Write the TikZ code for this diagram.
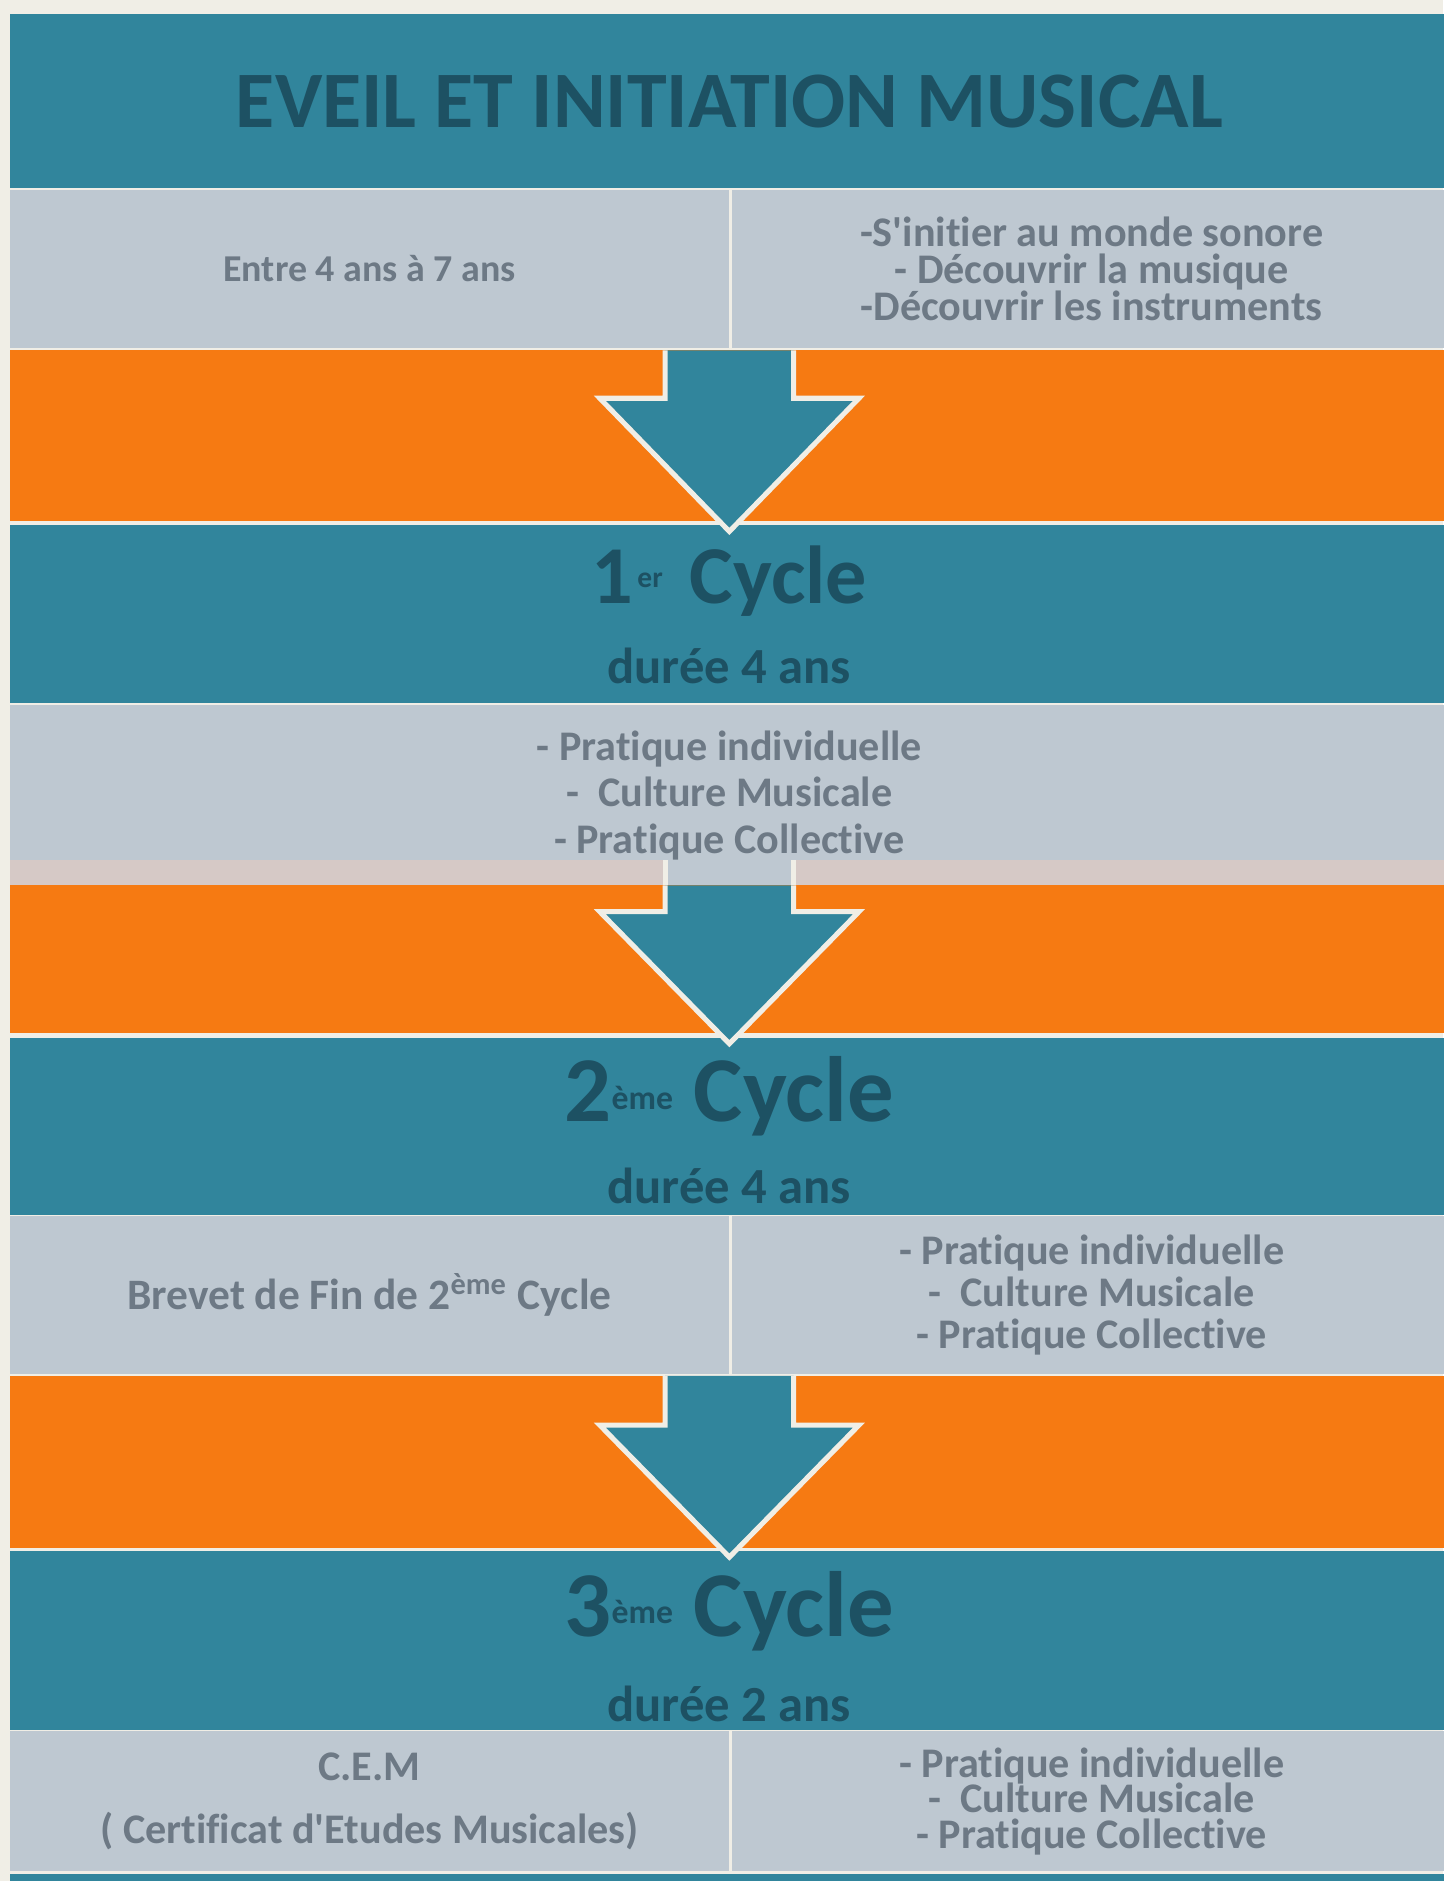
\documentclass[tikz,border=0pt]{standalone}
\usepackage{fontspec}
\setmainfont{Carlito}[Ligatures=NoCommon]
\usetikzlibrary{positioning}
\definecolor{bandteal}{HTML}{31859C}
\definecolor{titleteal}{HTML}{1D5163}
\definecolor{bandorange}{HTML}{F67A12}
\definecolor{bandgray}{HTML}{BEC8D1}
\definecolor{graytext}{HTML}{6D7985}
\definecolor{offwhite}{HTML}{F0EEE6}
\definecolor{pinkstrip}{HTML}{D6C9C6}
\setlength{\lineskiplimit}{-100pt}
\newcommand{\smallsup}[3]{\raisebox{#1}{\fontsize{#2}{#2}\selectfont #3}}

\begin{document}
\begin{tikzpicture}[
    band/.style={inner sep=0pt, outer sep=0pt, minimum width=12cm},
    tealband/.style={band, fill=bandteal, text=titleteal, font=\bfseries\fontsize{19}{23}\selectfont},
    orangeband/.style={band, fill=bandorange},
    grayband/.style={band, fill=bandgray, text=graytext, align=center},
    graycell/.style={grayband, minimum width=6cm},
    cyclelabel/.style={anchor=base, inner sep=0pt, text=titleteal, font=\bfseries\fontsize{22}{26}\selectfont},
    durationlabel/.style={anchor=base, inner sep=0pt, text=titleteal, font=\bfseries\fontsize{12}{14}\selectfont},
    blockarrow/.style={fill=bandteal, draw=offwhite, line width=1.2pt, line join=miter}
]
        \useasboundingbox (0,0) rectangle (12.03,-15.68);
        \fill[offwhite] (0,0) rectangle (12.03,-15.68);

        \node[tealband, minimum height=14.5mm, anchor=north west] (title) at (0.08,-0.12) {EVEIL ET INITIATION MUSICAL};
        \node[graycell, minimum height=13.2mm, below=0.1mm of title.south west, anchor=north west, font=\bfseries\fontsize{9}{11}\selectfont] (age) {Entre 4 ans à 7 ans};
        \node[graycell, minimum height=13.2mm, right=0.2mm of age, font=\bfseries\fontsize{10}{8.8}\selectfont] (eveilgoals) {-S\textquotesingle initier au monde sonore\\ - Découvrir la musique\\-Découvrir les instruments};
        \node[orangeband, minimum height=14.2mm, below=0.2mm of age.south west, anchor=north west] (gap1) {};

        \node[tealband, minimum height=14.8mm, below=0.4mm of gap1] (cycle1) {};
        \node[cyclelabel, font=\bfseries\fontsize{19.5}{23}\selectfont] (cycle1name) at ([yshift=-6.5mm]cycle1.north) {1\hspace{1pt}\smallsup{3.7pt}{7}{er}\hspace{2pt} Cycle};
        \node[durationlabel] (cycle1time) at ([yshift=-13.2mm]cycle1.north) {durée 4 ans};
        \node[grayband, minimum height=15mm, below=0.2mm of cycle1, font=\bfseries\fontsize{10}{11}\selectfont] (cycle1goals) {- Pratique individuelle\\ -\ \ Culture Musicale\\- Pratique Collective};
        \node[orangeband, minimum height=12.3mm, below=0mm of cycle1goals] (gap2) {};

        \node[tealband, minimum height=14.8mm, below=0.4mm of gap2] (cycle2) {};
        \node[cyclelabel] (cycle2name) at ([yshift=-7mm]cycle2.north) {2\smallsup{3pt}{8}{ème} Cycle};
        \node[durationlabel] (cycle2time) at ([yshift=-13.8mm]cycle2.north) {durée 4 ans};
        \node[graycell, minimum height=13.1mm, below=0.1mm of cycle2.south west, anchor=north west, font=\bfseries\fontsize{10.3}{12}\selectfont] (brevet) {Brevet de Fin de 2\textsuperscript{ème} Cycle};
        \node[graycell, minimum height=13.1mm, right=0.2mm of brevet, font=\bfseries\fontsize{10}{10}\selectfont] (cycle2goals) {- Pratique individuelle\\ -\ \ Culture Musicale\\- Pratique Collective};
        \node[orangeband, minimum height=14.3mm, below=0.2mm of brevet.south west, anchor=north west] (gap3) {};

        \node[tealband, minimum height=14.9mm, below=0.3mm of gap3] (cycle3) {};
        \node[cyclelabel] (cycle3name) at ([yshift=-7.1mm]cycle3.north) {3\smallsup{3pt}{8}{ème} Cycle};
        \node[durationlabel] (cycle3time) at ([yshift=-14.2mm]cycle3.north) {durée 2 ans};
        \node[graycell, minimum height=11.7mm, below=0.1mm of cycle3.south west, anchor=north west, font=\bfseries\fontsize{10}{15}\selectfont] (cem) {C.E.M\\( Certificat d\textquotesingle Etudes Musicales)};
        \node[graycell, minimum height=11.7mm, right=0.2mm of cem, font=\bfseries\fontsize{10}{8.4}\selectfont] (cycle3goals) {- Pratique individuelle\\ -\ \ Culture Musicale\\- Pratique Collective};
        \node[tealband, minimum height=3mm, below=0.2mm of cem.south west, anchor=north west] (footer) {};

        \draw[blockarrow] ([xshift=-5.35mm]gap1.north) -- ++(0,-4mm) -- ++(-5.45mm,0) -- ([yshift=-0.5mm]cycle1.north) -- ([xshift=10.8mm,yshift=-4mm]gap1.north) -- ++(-5.45mm,0) -- ([xshift=5.35mm]gap1.north);

        \fill[pinkstrip] ([yshift=2.1mm]gap2.north west) rectangle ([xshift=-5.35mm]gap2.north);
        \fill[pinkstrip] ([xshift=5.35mm,yshift=2.1mm]gap2.north) rectangle (gap2.north east);
        \draw[blockarrow] ([xshift=-5.35mm]gap2.north) -- ++(0,-2.2mm) -- ++(-5.45mm,0) -- ([yshift=-0.5mm]cycle2.north) -- ([xshift=10.8mm,yshift=-2.2mm]gap2.north) -- ++(-5.45mm,0) -- ([xshift=5.35mm]gap2.north);
        \draw[offwhite, line width=1.2pt] ([xshift=-5.35mm]gap2.north) -- ++(0,2.1mm);
        \draw[offwhite, line width=1.2pt] ([xshift=5.35mm]gap2.north) -- ++(0,2.1mm);

        \draw[blockarrow] ([xshift=-5.35mm]gap3.north) -- ++(0,-4.1mm) -- ++(-5.45mm,0) -- ([yshift=-0.5mm]cycle3.north) -- ([xshift=10.8mm,yshift=-4.1mm]gap3.north) -- ++(-5.45mm,0) -- ([xshift=5.35mm]gap3.north);
    \end{tikzpicture}
\end{document}
